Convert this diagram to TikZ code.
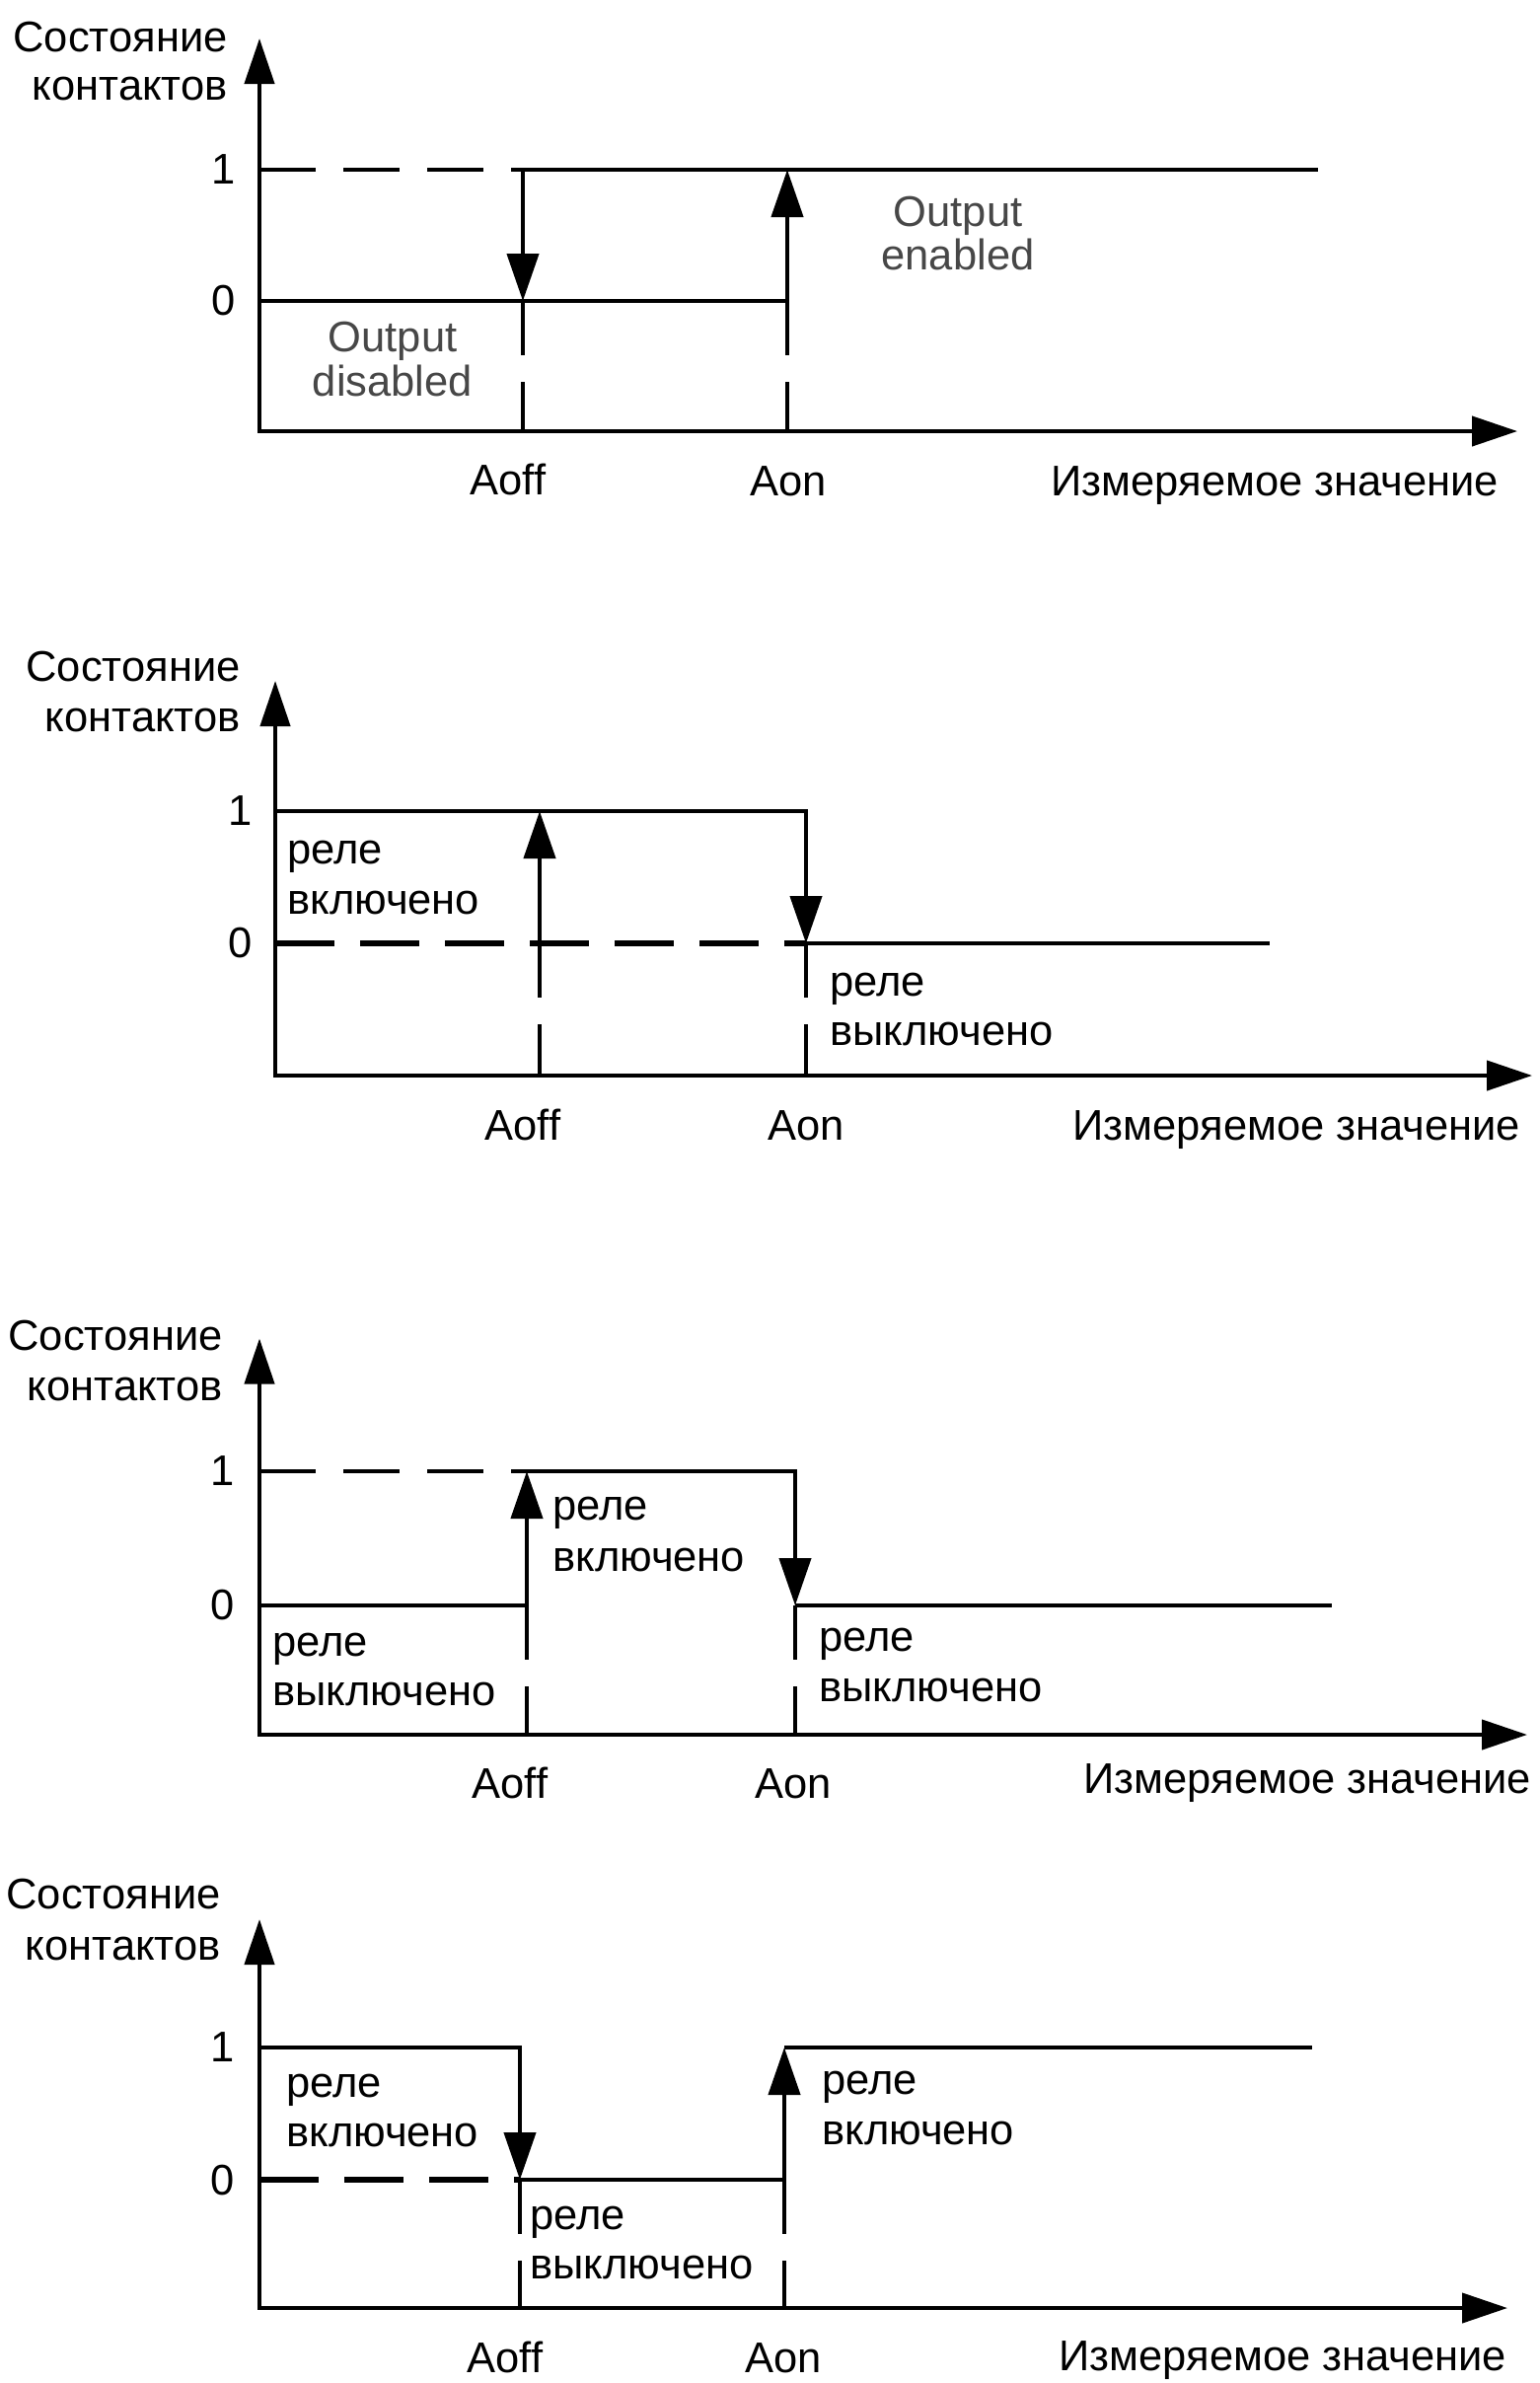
\documentclass[tikz,border=0pt]{standalone}
\usepackage{fontspec}
\setmainfont{Liberation Sans}
\usetikzlibrary{arrows.meta}
\tikzset{
  ln/.style={line width=2.1pt, line join=miter},
  axes/.style={ln, {Triangle[length=23pt,width=15pt]}-{Triangle[length=23pt,width=15pt]}},
  trans/.style={ln, -{Triangle[length=24pt,width=16pt]}},
  thindash/.style={ln, dash pattern=on 28.5pt off 14pt},
  thickdash/.style={line width=3.4pt, dash pattern=on 30pt off 13pt},
  gapline/.style={line width=2.4pt, dash pattern=on 27.5pt off 13.5pt on 200pt off 1pt},
  txt/.style={inner sep=0pt, font=\fontsize{21.75}{25}\selectfont},
  gtxt/.style={txt, text=black!72},
}
\begin{document}
\begin{tikzpicture}[x=0.5pt,y=-0.5pt]
\useasboundingbox[fill=white] (0,0) rectangle (1560,2415);

% ================= Panel 1 =================
\draw[axes] (263,39) -- (263,437) -- (1538,437);
\draw[thindash] (263,172) -- (530,172);
\draw[ln] (530,172) -- (1336,172);
\draw[trans] (530,172) -- (530,305);
\draw[trans] (263,305) -- (798,305) -- (798,172);
\draw[gapline] (530,305) -- (530,437);
\draw[gapline] (798,305) -- (798,437);
\node[txt, anchor=base east] (p1ya) at (231,52) {Состояние};
\node[txt, anchor=base east] (p1yb) at (231,101) {контактов};
\node[txt] (p1one) at (227,172) {1};
\node[txt] (p1zero) at (227,305) {0};
\node[gtxt, anchor=base] (p1d1) at (398,356.5) {Output};
\node[gtxt, anchor=base] (p1d2) at (398,401) {disabled};
\node[gtxt, anchor=base] (p1e1) at (971,229) {Output};
\node[gtxt, anchor=base] (p1e2) at (971,273.5) {enabled};
\node[txt, anchor=base] (p1aoff) at (515,501) {Aoff};
\node[txt, anchor=base] (p1aon) at (799,502) {Aon};
\node[txt, anchor=base west] (p1x) at (1065,502) {Измеряемое значение};

% ================= Panel 2 =================
\draw[axes] (279,690) -- (279,1090) -- (1553,1090);
\draw[thickdash] (279,956) -- (817,956);
\draw[ln] (817,956) -- (1287,956);
\draw[trans] (279,822) -- (817,822) -- (817,956);
\draw[trans] (547,956) -- (547,822);
\draw[gapline] (547,956) -- (547,1090);
\draw[gapline] (817,956) -- (817,1090);
\node[txt, anchor=base east] (p2ya) at (244,690) {Состояние};
\node[txt, anchor=base east] (p2yb) at (244,741) {контактов};
\node[txt] (p2one) at (244,822) {1};
\node[txt] (p2zero) at (244,956) {0};
\node[txt, anchor=base west] (p2on1) at (291,875) {реле};
\node[txt, anchor=base west] (p2on2) at (291,926) {включено};
\node[txt, anchor=base west] (p2off1) at (841,1009) {реле};
\node[txt, anchor=base west] (p2off2) at (841,1059) {выключено};
\node[txt, anchor=base] (p2aoff) at (530,1155.5) {Aoff};
\node[txt, anchor=base] (p2aon) at (817,1155.5) {Aon};
\node[txt, anchor=base west] (p2x) at (1087,1155) {Измеряемое значение};

% ================= Panel 3 =================
\draw[axes] (263,1356.5) -- (263,1758) -- (1548,1758);
\draw[thindash] (263,1491) -- (534,1491);
\draw[trans] (263,1627) -- (534,1627) -- (534,1491);
\draw[trans] (534,1491) -- (806,1491) -- (806,1627);
\draw[ln] (806,1627) -- (1350,1627);
\draw[gapline] (534,1627) -- (534,1758);
\draw[gapline] (806,1627) -- (806,1758);
\node[txt, anchor=base east] (p3ya) at (226,1368) {Состояние};
\node[txt, anchor=base east] (p3yb) at (226,1419.5) {контактов};
\node[txt] (p3one) at (226,1491) {1};
\node[txt] (p3zero) at (226,1627) {0};
\node[txt, anchor=base west] (p3on1) at (560,1540.5) {реле};
\node[txt, anchor=base west] (p3on2) at (560,1592) {включено};
\node[txt, anchor=base west] (p3offa1) at (276,1678) {реле};
\node[txt, anchor=base west] (p3offa2) at (276,1728.5) {выключено};
\node[txt, anchor=base west] (p3offb1) at (830,1673) {реле};
\node[txt, anchor=base west] (p3offb2) at (830,1724) {выключено};
\node[txt, anchor=base] (p3aoff) at (517,1822.5) {Aoff};
\node[txt, anchor=base] (p3aon) at (804,1822.5) {Aon};
\node[txt, anchor=base west] (p3x) at (1098,1817.5) {Измеряемое значение};

% ================= Panel 4 =================
\draw[axes] (263,1945) -- (263,2339) -- (1528,2339);
\draw[thickdash] (263,2209) -- (527,2209);
\draw[trans] (263,2075) -- (527,2075) -- (527,2209);
\draw[trans] (527,2209) -- (795,2209) -- (795,2075);
\draw[ln] (795,2075) -- (1330,2075);
\draw[gapline] (527,2209) -- (527,2339);
\draw[gapline] (795,2209) -- (795,2339);
\node[txt, anchor=base east] (p4ya) at (224,1934.5) {Состояние};
\node[txt, anchor=base east] (p4yb) at (224,1986.5) {контактов};
\node[txt] (p4one) at (226,2075) {1};
\node[txt] (p4zero) at (226,2209) {0};
\node[txt, anchor=base west] (p4ona1) at (290,2125.5) {реле};
\node[txt, anchor=base west] (p4ona2) at (290,2175) {включено};
\node[txt, anchor=base west] (p4off1) at (537,2259.5) {реле};
\node[txt, anchor=base west] (p4off2) at (537,2309) {выключено};
\node[txt, anchor=base west] (p4onb1) at (833,2122) {реле};
\node[txt, anchor=base west] (p4onb2) at (833,2173.5) {включено};
\node[txt, anchor=base] (p4aoff) at (512,2404) {Aoff};
\node[txt, anchor=base] (p4aon) at (794,2404) {Aon};
\node[txt, anchor=base west] (p4x) at (1073,2402) {Измеряемое значение};
\end{tikzpicture}
\end{document}
